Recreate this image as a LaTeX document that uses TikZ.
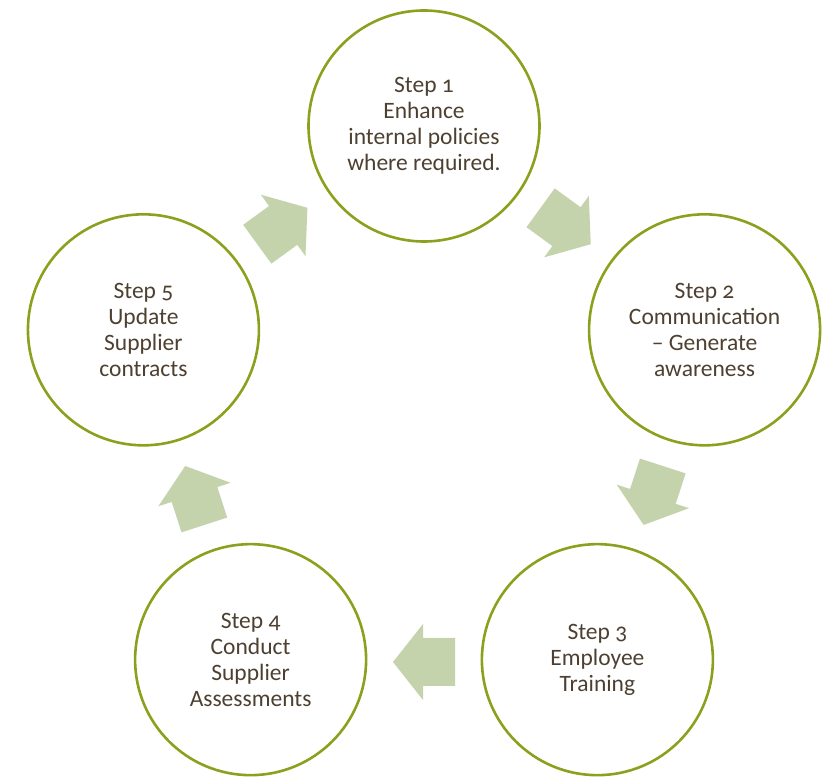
\documentclass[tikz,border=0pt]{standalone}
\usepackage{fontspec}
\setmainfont{Carlito}[Numbers=OldStyle]
\usetikzlibrary{calc}
\definecolor{ringgreen}{RGB}{140,160,30}
\definecolor{arrowfill}{RGB}{196,211,172}
\definecolor{textbrown}{RGB}{77,64,49}
\tikzset{
    stepcircle/.style={circle,draw=ringgreen,line width=2.6pt,minimum size=231pt,
        inner sep=0pt,align=center,text=textbrown,font=\fontsize{23.5}{26}\selectfont},
    blockarrow/.style={fill=arrowfill,draw=none}
}

\begin{document}
\begin{tikzpicture}[x=1pt,y=1pt]
    \useasboundingbox (0,0) rectangle (830,778);
    \coordinate (ctr) at (424,357);
    % Steps
    \node[stepcircle] (s1) at ($(ctr)+(90:295)$) {Step 1\\Enhance\\internal policies\\where required.};
    \node[stepcircle] (s2) at ($(ctr)+(18:295)$) {Step 2\\Communication\\-- Generate\\awareness};
    \node[stepcircle] (s3) at ($(ctr)+(-54:295)$) {Step 3\\Employee\\Training};
    \node[stepcircle] (s4) at ($(ctr)+(-126:295)$) {Step 4\\Conduct\\Supplier\\Assessments};
    \node[stepcircle] (s5) at ($(ctr)+(162:295)$) {Step 5\\Update\\Supplier\\contracts};
    % Arrows
    \foreach \ang in {54,-18,-90,-162,126}{
        \begin{scope}[shift={($(ctr)+(\ang:241)$)},rotate=\ang-90]
            \fill[blockarrow] (-31,-24) -- (1,-24) -- (1,-38) -- (31,0)
                -- (1,38) -- (1,24) -- (-31,24) -- cycle;
        \end{scope}
    }
\end{tikzpicture}
\end{document}
